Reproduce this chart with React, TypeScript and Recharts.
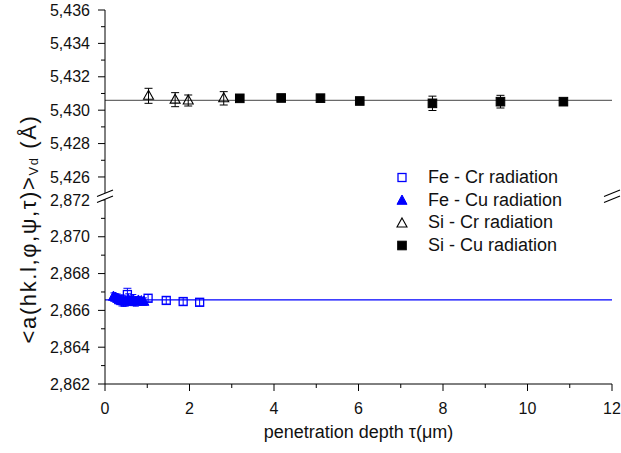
import React from 'react';
import { ComposedChart, Scatter, XAxis, YAxis, ReferenceLine, ErrorBar, Legend } from 'recharts';

const FONT = '"Liberation Sans", Arial, sans-serif';
const BLUE = '#0000ff';
const GREY = '#6a6a6a';

// ---------- data ----------
// penetration depth tau (µm) and lattice parameter (Å)
const feCrDepth = [0.53, 1.02, 1.45, 1.85, 2.24];
const feCrLattice = [2.86686, 2.86666, 2.86654, 2.86648, 2.86644];
const feCrError = [0.00034, 0.0002, 0.0002, 0.0002, 0.0002];

const feCuDepth = [0.2, 0.25, 0.3, 0.34, 0.39, 0.44, 0.49, 0.55, 0.61, 0.67, 0.73, 0.79, 0.86, 0.92];
const feCuLattice = [2.86675, 2.8667, 2.86664, 2.86656, 2.86654, 2.86652, 2.86648, 2.8666, 2.86651, 2.86656, 2.86648, 2.86654, 2.86651, 2.86648];
const feCuError = [0.0002, 0.0002, 0.00025, 0.00025, 0.0003, 0.0003, 0.00025, 0.0003, 0.00025, 0.0003, 0.00025, 0.0002, 0.0002, 0.0002];

const siCrDepth = [1.03, 1.66, 1.97, 2.81];
const siCrLattice = [5.43086, 5.43063, 5.43058, 5.43071];
const siCrError = [0.00045, 0.00042, 0.00033, 0.0004];

const siCuDepth = [3.19, 4.17, 5.1, 6.03, 7.75, 9.36, 10.85];
const siCuLattice = [5.43071, 5.43073, 5.43072, 5.43055, 5.43041, 5.43051, 5.43051];
const siCuError = [0.00015, 0.00015, 0.00015, 0.00015, 0.00043, 0.00038, 0.00015];

const siMean = 5.43059;
const feMean = 2.86657;

const seriesNames = ['Fe - Cr radiation', 'Fe - Cu radiation', 'Si - Cr radiation', 'Si - Cu radiation'];

const depthTicks = [0, 1, 2, 3, 4, 5, 6, 7, 8, 9, 10, 11, 12];
const siTicks = [5.426, 5.427, 5.428, 5.429, 5.43, 5.431, 5.432, 5.433, 5.434, 5.435, 5.436];
const feTicks = [2.862, 2.863, 2.864, 2.865, 2.866, 2.867, 2.868, 2.869, 2.87, 2.871, 2.872];

const depthDomain = [0, 12];
const siDomain = [5.4248, 5.436];
const feDomain = [2.862, 2.87216];

const xAxisTitle = 'penetration depth τ(μm)';

const zip = (xs: number[], ys: number[], es: number[]) => xs.map((x, i) => ({ x, y: ys[i], err: es[i] }));
const feCrData = zip(feCrDepth, feCrLattice, feCrError);
const feCuData = zip(feCuDepth, feCuLattice, feCuError);
const siCrData = zip(siCrDepth, siCrLattice, siCrError);
const siCuData = zip(siCuDepth, siCuLattice, siCuError);

// ---------- symbols ----------
const drawSymbol = (kind: string, cx: number, cy: number, color: string) => {
  if (kind === 'openSquare')
    return <rect x={cx - 4} y={cy - 4} width={8} height={8} fill="none" stroke={color} strokeWidth={1.3} />;
  if (kind === 'filledSquare')
    return <rect x={cx - 4.3} y={cy - 4.3} width={8.6} height={8.6} fill={color} stroke={color} />;
  if (kind === 'openTriangle')
    return <polygon points={`${cx},${cy - 5.5} ${cx + 5},${cy + 3.5} ${cx - 5},${cy + 3.5}`} fill="none" stroke={color} strokeWidth={1.1} />;
  return <polygon points={`${cx},${cy - 5.5} ${cx + 5},${cy + 3.8} ${cx - 5},${cy + 3.8}`} fill={color} stroke={color} />;
};

const seriesKinds = ['openSquare', 'filledTriangle', 'openTriangle', 'filledSquare'];
const seriesColors = [BLUE, BLUE, '#000', '#000'];

const shapeFor = (idx: number) => (p: any) => <g>{drawSymbol(seriesKinds[idx], p.cx, p.cy, seriesColors[idx])}</g>;

// ---------- ticks ----------
const isMajorLattice = (v: number) => Math.round(v * 1000) % 2 === 0;
const isMajorDepth = (v: number) => Math.round(v) % 2 === 0;
const fmtLattice = (v: number) => v.toFixed(3).replace('.', ',');

const LeftTick = (props: any) => {
  const { x, y, payload } = props;
  const major = isMajorLattice(payload.value);
  return (
    <g>
      <line x1={x} x2={x - (major ? 7 : 4)} y1={y} y2={y} stroke="#000" />
      {major && (
        <text x={x - 15} y={y} dy="0.35em" textAnchor="end" fontSize={16} fontFamily={FONT} fill="#111">
          {fmtLattice(payload.value)}
        </text>
      )}
    </g>
  );
};

const RightTick = (props: any) => {
  const { x, y, payload } = props;
  const major = isMajorLattice(payload.value);
  return <line x1={x} x2={x - (major ? 7 : 4)} y1={y} y2={y} stroke="#000" />;
};

const TopTick = (props: any) => {
  const { x, y, payload } = props;
  const major = isMajorDepth(payload.value);
  return <line x1={x} x2={x} y1={y} y2={y + (major ? 6 : 4)} stroke="#000" />;
};

const BottomTick = (props: any) => {
  const { x, y, payload } = props;
  const major = isMajorDepth(payload.value);
  return (
    <g>
      <line x1={x} x2={x} y1={y} y2={y + (major ? 7 : 4)} stroke="#000" />
      {major && (
        <text x={x} y={y + 24} dy="0.35em" textAnchor="middle" fontSize={16} fontFamily={FONT} fill="#111">
          {payload.value}
        </text>
      )}
    </g>
  );
};

const LegendContent = () => (
  <div style={{ fontFamily: FONT, fontSize: 18, color: '#111', lineHeight: '22.7px' }}>
    {seriesNames.map((name, i) => (
      <div key={name} style={{ display: 'flex', alignItems: 'center', height: 22.7, whiteSpace: 'nowrap' }}>
        <svg width={14} height={14} style={{ display: 'block' }}>
          {drawSymbol(seriesKinds[i], 7, 7.5, seriesColors[i])}
        </svg>
        <span style={{ marginLeft: 19 }}>{name}</span>
      </div>
    ))}
  </div>
);

const BreakMark = ({ x, y }: { x: number; y: number }) => (
  <g>
    <polygon points={`${x - 8},${y + 0.5} ${x + 8},${y - 6} ${x + 8},${y} ${x - 8},${y + 6.5}`} fill="#fff" />
    <line x1={x - 8} y1={y + 0.5} x2={x + 8} y2={y - 6} stroke="#000" strokeWidth={1.1} />
    <line x1={x - 8} y1={y + 6.5} x2={x + 8} y2={y} stroke="#000" strokeWidth={1.1} />
  </g>
);

const W = 621;
const H = 453;

export default function App() {
  return (
    <div style={{ position: 'absolute', left: 0, top: 0, width: W, height: H, background: '#fff', fontFamily: FONT }}>
      {/* upper segment: Si */}
      <div style={{ position: 'absolute', left: 0, top: 0 }}>
        <ComposedChart width={W} height={H} margin={{ top: 10, right: 9, bottom: 256, left: 0 }}>
          <XAxis
            xAxisId="top"
            orientation="top"
            type="number"
            dataKey="x"
            domain={depthDomain}
            ticks={depthTicks}
            height={0}
            tickSize={0}
            tickMargin={0}
            tickLine={false}
            axisLine={{ stroke: '#000' }}
            tick={(p: any) => <TopTick {...p} />}
            interval={0}
          />
          <YAxis
            yAxisId="left"
            type="number"
            dataKey="y"
            domain={siDomain}
            ticks={siTicks}
            width={105}
            tickSize={0}
            tickMargin={0}
            tickLine={false}
            axisLine={{ stroke: '#000' }}
            tick={(p: any) => <LeftTick {...p} />}
            interval={0}
            allowDataOverflow
          />
          <YAxis
            yAxisId="right"
            orientation="right"
            type="number"
            dataKey="y"
            domain={siDomain}
            ticks={siTicks}
            width={0}
            tickSize={0}
            tickMargin={0}
            tickLine={false}
            axisLine={{ stroke: '#000' }}
            tick={(p: any) => <RightTick {...p} />}
            interval={0}
            allowDataOverflow
          />
          <ReferenceLine xAxisId="top" yAxisId="left" y={siMean} stroke={GREY} strokeWidth={1.2} />
          <Scatter name={seriesNames[2]} data={siCrData} xAxisId="top" yAxisId="left" shape={shapeFor(2)} isAnimationActive={false}>
            <ErrorBar dataKey="err" direction="y" width={4} stroke="#000" strokeWidth={1} />
          </Scatter>
          <Scatter name={seriesNames[3]} data={siCuData} xAxisId="top" yAxisId="left" shape={shapeFor(3)} isAnimationActive={false}>
            <ErrorBar dataKey="err" direction="y" width={4} stroke="#000" strokeWidth={1} />
          </Scatter>
        </ComposedChart>
      </div>

      {/* lower segment: Fe */}
      <div style={{ position: 'absolute', left: 0, top: 0 }}>
        <ComposedChart width={W} height={H} margin={{ top: 197, right: 9, bottom: 0, left: 0 }}>
          <XAxis
            xAxisId="bottom"
            orientation="bottom"
            type="number"
            dataKey="x"
            domain={depthDomain}
            ticks={depthTicks}
            height={69}
            tickSize={0}
            tickMargin={0}
            tickLine={false}
            axisLine={{ stroke: '#000' }}
            tick={(p: any) => <BottomTick {...p} />}
            interval={0}
            label={{ value: xAxisTitle, position: 'insideBottom', offset: 15, fontSize: 18, fill: '#111', fontFamily: FONT }}
          />
          <YAxis
            yAxisId="left"
            type="number"
            dataKey="y"
            domain={feDomain}
            ticks={feTicks}
            width={105}
            tickSize={0}
            tickMargin={0}
            tickLine={false}
            axisLine={{ stroke: '#000' }}
            tick={(p: any) => <LeftTick {...p} />}
            interval={0}
            allowDataOverflow
          />
          <YAxis
            yAxisId="right"
            orientation="right"
            type="number"
            dataKey="y"
            domain={feDomain}
            ticks={feTicks}
            width={0}
            tickSize={0}
            tickMargin={0}
            tickLine={false}
            axisLine={{ stroke: '#000' }}
            tick={(p: any) => <RightTick {...p} />}
            interval={0}
            allowDataOverflow
          />
          <ReferenceLine xAxisId="bottom" yAxisId="left" y={feMean} stroke={BLUE} strokeWidth={1.2} />
          <Scatter name={seriesNames[1]} data={feCuData} xAxisId="bottom" yAxisId="left" shape={shapeFor(1)} isAnimationActive={false}>
            <ErrorBar dataKey="err" direction="y" width={3} stroke={BLUE} strokeWidth={1} />
          </Scatter>
          <Scatter name={seriesNames[0]} data={feCrData} xAxisId="bottom" yAxisId="left" shape={shapeFor(0)} isAnimationActive={false}>
            <ErrorBar dataKey="err" direction="y" width={4} stroke={BLUE} strokeWidth={1} />
          </Scatter>
          <Legend
            layout="vertical"
            align="center"
            verticalAlign="middle"
            content={() => <LegendContent />}
            wrapperStyle={{ left: 395, top: 166, width: 200 }}
          />
        </ComposedChart>
      </div>

      {/* axis breaks and y-axis title */}
      <svg width={W} height={H} style={{ position: 'absolute', left: 0, top: 0, pointerEvents: 'none' }}>
        <BreakMark x={105} y={196} />
        <BreakMark x={612} y={196} />
        <text
          x={28}
          y={229}
          transform="rotate(-90, 28, 229)"
          textAnchor="middle"
          dominantBaseline="central"
          fontSize={22}
          letterSpacing={1.6}
          fontFamily={FONT}
          fill="#111"
        >
          {'<a(hk.l,φ,ψ,τ)>'}
          <tspan fontSize={13} dy={5}>Vd</tspan>
          <tspan dy={-5}>{' (Å)'}</tspan>
        </text>
      </svg>
    </div>
  );
}
